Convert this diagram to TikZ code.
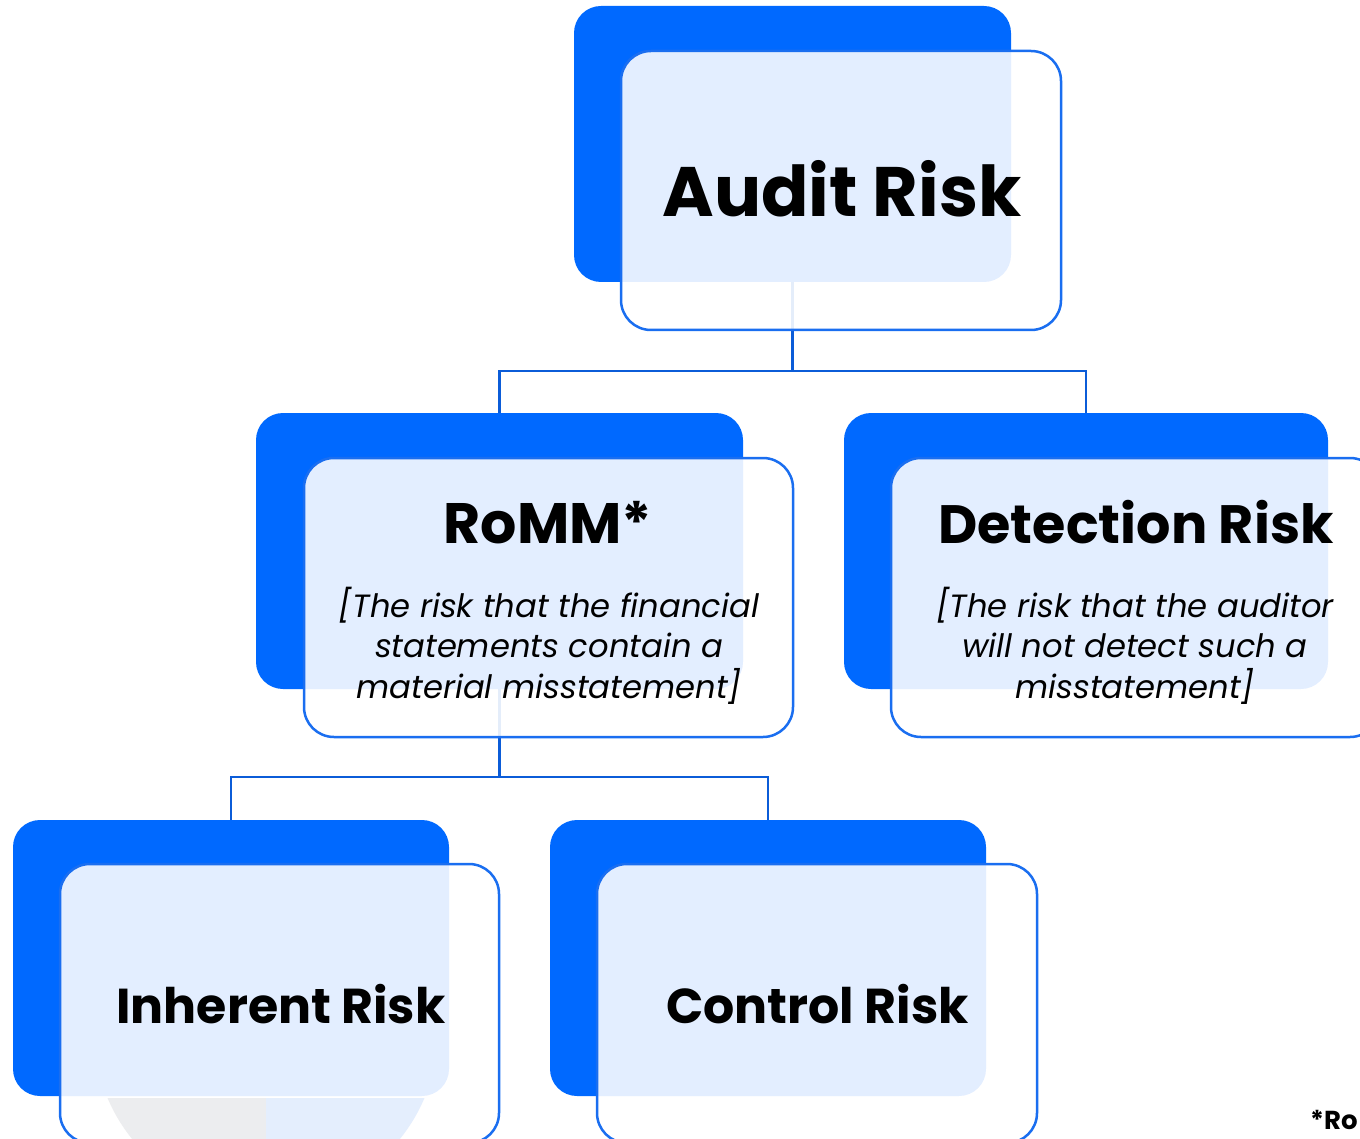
\documentclass[tikz,border=0pt]{standalone}
\usepackage{fontspec}
\setmainfont{Poppins}
\definecolor{brand}{HTML}{0069FF}
\definecolor{edge}{HTML}{1A6EF0}
\definecolor{link}{HTML}{0B5CD8}
\definecolor{piegray}{HTML}{ECEDEF}
\definecolor{pieblue}{HTML}{E4EEFD}
\begin{document}
\begin{tikzpicture}[x=1pt,y=-1pt,
  backbox/.style={fill=brand, rounded corners=27pt, inner sep=0pt, minimum height=276pt},
  frontbox/.style={draw=edge, line width=2.5pt, fill=white, fill opacity=0.89, rounded corners=30pt, inner sep=0pt, minimum height=279pt},
  conn/.style={draw=link, line width=2.5pt},
  bigtitle/.style={font=\fontsize{70}{80}\selectfont\bfseries, anchor=base, inner sep=0pt},
  title/.style={font=\fontsize{#1}{60}\selectfont\bfseries, anchor=base, inner sep=0pt},
  title/.default=53,
  desc/.style={font=\fontsize{32.2}{40.5}\selectfont\itshape, align=center, anchor=base, inner sep=0pt},
  note/.style={font=\fontsize{26}{30}\selectfont\bfseries, anchor=base west, inner sep=0pt}
]
\useasboundingbox (0,0) rectangle (1360,1139);

% solid back panels
\node[backbox, minimum width=437pt] (ar-back) at (792.5,144) {};
\node[backbox, minimum width=487pt] (romm-back) at (499.5,551) {};
\node[backbox, minimum width=484pt] (det-back) at (1086,551) {};
\node[backbox, minimum width=436pt] (ir-back) at (231,958) {};
\node[backbox, minimum width=436pt] (cr-back) at (768,958) {};

% tree connectors
\coordinate (j1) at (792.5,371);
\coordinate (j2) at (499.5,777);
\draw[conn] (ar-back.south) -- (j1);
\draw[conn] (romm-back.north) |- (j1) -| (det-back.north);
\draw[conn] (romm-back.south) -- (j2);
\draw[conn] (ir-back.north) |- (j2) -| (cr-back.north);

% translucent front cards
\node[frontbox, minimum width=440pt] (ar-front) at (841,190.5) {};
\node[frontbox, minimum width=489pt] (romm-front) at (548.5,597.5) {};
\node[frontbox, minimum width=489pt] (det-front) at (1135.5,597.5) {};
\node[frontbox, minimum width=439pt] (ir-front) at (279.5,1003.5) {};
\node[frontbox, minimum width=440pt] (cr-front) at (817,1003.5) {};

% partly hidden disc below the inherent-risk panel
\begin{scope}
  \clip (0,1098) rectangle (1360,1139);
  \fill[piegray] (266,1031) -- (266,859) arc[start angle=90, end angle=270, radius=172pt] -- cycle;
  \fill[pieblue] (266,1031) -- (266,859) arc[start angle=90, end angle=-90, radius=172pt] -- cycle;
\end{scope}

% labels
\node[bigtitle] (ar-text) at (842,217) {Audit Risk};
\node[title=57] (romm-text) at (548,543) {RoMM*};
\node[desc] (romm-desc) at (549,698) {[The risk that the financial\\statements contain a\\material misstatement]};
\node[title=54] (det-text) at (1136,543) {Detection Risk};
\node[desc] (det-desc) at (1135,698) {[The risk that the auditor\\will not detect such a\\misstatement]};
\node[title=49] (ir-text) at (281,1023) {Inherent Risk};
\node[title=49] (cr-text) at (817.5,1023) {Control Risk};
\node[note] (fn) at (1310,1129) {*Ro};
\end{tikzpicture}
\end{document}
